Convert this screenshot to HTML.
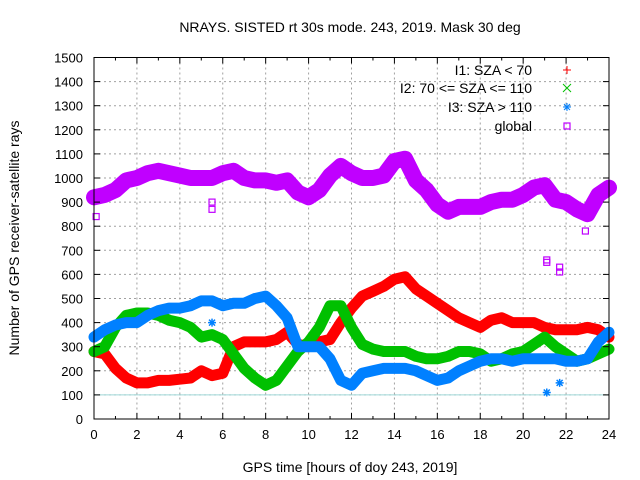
<!DOCTYPE html>
<html><head><meta charset="utf-8"><style>
body{margin:0;background:#fff}
svg{display:block;font-family:"Liberation Sans",sans-serif;font-size:13px}
</style></head><body>
<svg id="chart" width="640" height="480" xmlns="http://www.w3.org/2000/svg">
<g id="grid"></g>
<line x1="94" y1="394.9" x2="609" y2="394.9" stroke="#9fd8d8" stroke-width="1"/>
<g id="series"></g>
<g id="axes"></g>
<text x="350" y="32" text-anchor="middle" font-size="14">NRAYS. SISTED rt 30s mode. 243, 2019. Mask 30 deg</text>
<text x="350" y="472" text-anchor="middle" font-size="14">GPS time [hours of doy 243, 2019]</text>
<text transform="translate(19,238) rotate(-90)" text-anchor="middle" font-size="14">Number of GPS receiver-satellite rays</text>
<g>
<g><text x="532" y="75" text-anchor="end" font-size="14">I1: SZA &lt; 70</text><path d="M563 70h8M567 66v8" stroke="#ff0000" stroke-width="1"/></g>
<g><text x="532" y="93" text-anchor="end" font-size="14">I2: 70 &lt;= SZA &lt;= 110</text><path d="M563 84l8 8M571 84l-8 8" stroke="#00c000" stroke-width="1"/></g>
<g><text x="532" y="112" text-anchor="end" font-size="14">I3: SZA &gt; 110</text><path d="M563 107h8M567 103v8M564 104l6 6M570 104l-6 6" stroke="#0080ff" stroke-width="1"/></g>
<g><text x="532" y="131" text-anchor="end" font-size="14">global</text><rect x="564" y="123" width="6" height="6" fill="none" stroke="#c000ff" stroke-width="1.2"/></g>
</g>
</svg>
<script>
const hours=[0,0.5,1,1.5,2,2.5,3,3.5,4,4.5,5,5.5,6,6.5,7,7.5,8,8.5,9,9.5,10,10.5,11,11.5,12,12.5,13,13.5,14,14.5,15,15.5,16,16.5,17,17.5,18,18.5,19,19.5,20,20.5,21,21.5,22,22.5,23,23.5,24];
const i1Values=[280,270,210,170,150,150,160,160,165,170,200,180,190,300,320,320,320,330,360,310,300,320,330,400,460,510,530,550,580,590,540,510,480,450,420,400,380,410,420,400,400,400,380,370,370,370,380,370,340];
const i2Values=[280,300,380,430,440,440,430,410,400,380,340,350,330,270,210,170,140,160,220,280,320,380,470,470,380,310,290,280,280,280,260,250,250,260,280,280,270,240,250,270,280,310,340,300,270,240,250,270,290];
const i3Values=[340,370,390,400,400,430,450,460,460,470,490,490,470,480,480,500,510,470,420,300,300,300,250,160,140,190,200,210,210,210,200,180,160,170,200,220,240,250,250,240,250,250,250,250,240,240,250,320,360];
const globalValues=[920,930,950,990,1000,1020,1030,1020,1010,1000,1000,1000,1020,1030,1000,990,990,980,990,940,920,950,1010,1050,1020,1000,1000,1010,1070,1080,990,950,890,860,880,880,880,900,910,910,930,960,970,910,900,870,850,930,960];
const globalOutlierHours=[0.1,5.5,5.5,21.1,21.1,21.7,21.7,22.9];
const globalOutlierValues=[840,900,870,660,650,630,610,780];
const i3OutlierHours=[21.1,21.7,5.5];
const i3OutlierValues=[110,150,400];
const xTicks=[0,2,4,6,8,10,12,14,16,18,20,22,24];
const yTicks=[0,100,200,300,400,500,600,700,800,900,1000,1100,1200,1300,1400,1500];
const NS="http://www.w3.org/2000/svg";
const X0=94,X1=609,Y0=419,Y1=57.5;
function xs(h){return X0+(X1-X0)*h/24;}
function ys(v){return Y0-(Y0-Y1)*v/1500;}
function mk(tag,attrs,parent){const e=document.createElementNS(NS,tag);for(const k in attrs)e.setAttribute(k,attrs[k]);parent.appendChild(e);return e;}
const grid=document.getElementById('grid'),axes=document.getElementById('axes'),ser=document.getElementById('series');
yTicks.forEach(v=>{
  const y=ys(v);
  if(v>0&&v<1500){const g=mk('line',{x1:X0,x2:X1,y1:y,y2:y,stroke:'#a0a0a0','stroke-dasharray':'2,3'},grid);
  
  }
  mk('line',{x1:X0,x2:X0+6,y1:y,y2:y,stroke:'#000'},axes);
  mk('line',{x1:X1,x2:X1-6,y1:y,y2:y,stroke:'#000'},axes);
  const t=mk('text',{x:X0-11,y:y+5,'text-anchor':'end'},axes);t.textContent=v;
  
  
});
for(let h=0;h<=24;h++){
  const x=xs(h),major=h%2===0,len=major?6:3;
  mk('line',{x1:x,x2:x,y1:Y0,y2:Y0-len,stroke:'#000'},axes);
  mk('line',{x1:x,x2:x,y1:Y1,y2:Y1+len,stroke:'#000'},axes);
}
xTicks.forEach(h=>{
  const x=xs(h);
  if(h>0&&h<24){const g=mk('line',{x1:x,x2:x,y1:Y1,y2:Y0,stroke:'#a0a0a0','stroke-dasharray':'2,3'},grid);
  
  }
  const t=mk('text',{x:x,y:Y0+20,'text-anchor':'middle'},axes);t.textContent=h;
  
  
});
const frame=mk('rect',{x:X0,y:Y1,width:X1-X0,height:Y0-Y1,fill:'none',stroke:'#000','stroke-width':1},axes);


function series(vals,color,w,name){
  const pts=vals.map((v,i)=>xs(hours[i]).toFixed(1)+','+ys(v).toFixed(1)).join(' ');
  const p=mk('polyline',{points:pts,fill:'none',stroke:color,'stroke-width':w,'stroke-linejoin':'round','stroke-linecap':'round'},ser);
  
  
}
series(i1Values,'#ff0000',11,'series-i1');
series(i2Values,'#00c000',11,'series-i2');
series(i3Values,'#0080ff',11,'series-i3');
i3OutlierHours.forEach((h,i)=>{
  const x=xs(h),y=ys(i3OutlierValues[i]);
  const p=mk('path',{d:`M${x-4} ${y}h8M${x} ${y-4}v8M${x-3} ${y-3}l6 6M${x+3} ${y-3}l-6 6`,stroke:'#0080ff','stroke-width':1.5},ser);
  
  
});
series(globalValues,'#c000ff',16,'series-global');
globalOutlierHours.forEach((h,i)=>{
  const x=xs(h),y=ys(globalOutlierValues[i]);
  const r=mk('rect',{x:x-3,y:y-3,width:6,height:6,fill:'none',stroke:'#c000ff','stroke-width':1.2},ser);
  
  
});
</script>
</body></html>
